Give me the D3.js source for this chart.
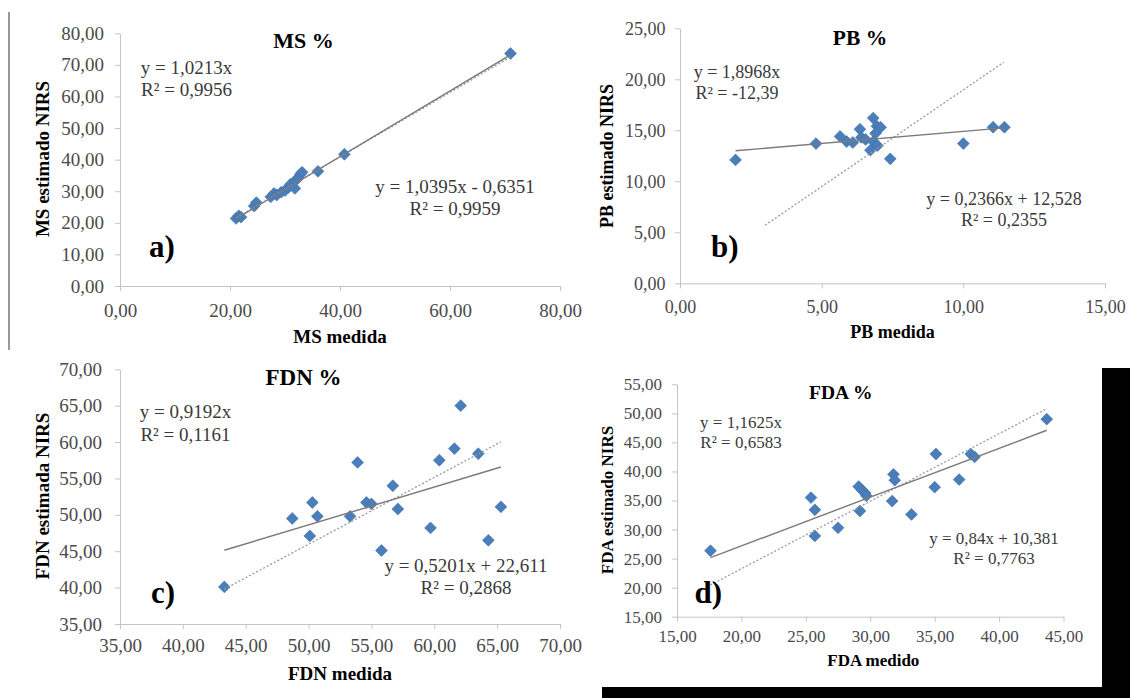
<!DOCTYPE html>
<html>
<head>
<meta charset="utf-8">
<script src="https://cdn.jsdelivr.net/npm/d3@7"></script>
<style>
  html, body { margin: 0; padding: 0; background: #fff; }
  svg { display: block; font-family: "Liberation Serif", "Times New Roman", serif; }
</style>
</head>
<body>
<svg id="chart" width="1130" height="698"></svg>
<script>
// a) MS %
const msMedida = [21.1, 21.6, 22.0, 24.4, 24.8, 27.4, 28.0, 28.5, 29.3, 30.0, 30.6, 31.0, 31.8, 31.9, 32.4, 32.8, 33.1, 36.0, 40.8, 71.0];
const msEstimado = [21.4, 22.2, 21.8, 25.3, 26.4, 28.2, 29.3, 28.8, 29.7, 30.2, 31.2, 32.2, 30.9, 33.4, 34.2, 35.4, 36.0, 36.3, 41.7, 73.6];
const msXTicks = [0, 20, 40, 60, 80];
const msYTicks = [0, 10, 20, 30, 40, 50, 60, 70, 80];
const msFitOrigem = [1.0213, 0];
const msFitLinear = [1.0395, -0.6351];
const msEquacoes = ["y = 1,0213x", "R² = 0,9956", "y = 1,0395x - 0,6351", "R² = 0,9959"];

// b) PB %
const pbMedida = [1.96, 4.8, 5.65, 5.88, 6.1, 6.35, 6.4, 6.55, 6.82, 6.95, 7.08, 6.9, 6.82, 6.72, 6.97, 7.42, 10.0, 11.05, 11.45];
const pbEstimado = [12.1, 13.7, 14.4, 13.9, 13.8, 15.1, 14.3, 14.1, 16.2, 15.4, 15.3, 14.7, 13.9, 13.05, 13.5, 12.2, 13.7, 15.3, 15.3];
const pbXTicks = [0, 5, 10, 15];
const pbYTicks = [0, 5, 10, 15, 20, 25];
const pbFitOrigem = [1.8968, 0];
const pbFitLinear = [0.2366, 12.528];
const pbEquacoes = ["y = 1,8968x", "R² = -12,39", "y = 0,2366x + 12,528", "R² = 0,2355"];
const pbOrigemFaixa = [3.0, 11.42];

// c) FDN %
const fdnMedida = [43.3, 48.7, 50.1, 50.3, 50.7, 53.3, 53.9, 54.6, 55.0, 55.8, 56.7, 57.1, 59.7, 60.4, 61.6, 62.1, 63.5, 64.3, 65.3];
const fdnEstimado = [40.1, 49.5, 47.1, 51.7, 49.8, 49.8, 57.2, 51.7, 51.5, 45.1, 54.0, 50.8, 48.2, 57.5, 59.1, 65.0, 58.4, 46.5, 51.1];
const fdnXTicks = [35, 40, 45, 50, 55, 60, 65, 70];
const fdnYTicks = [35, 40, 45, 50, 55, 60, 65, 70];
const fdnFitOrigem = [0.9192, 0];
const fdnFitLinear = [0.5201, 22.611];
const fdnEquacoes = ["y = 0,9192x", "R² = 0,1161", "y = 0,5201x + 22,611", "R² = 0,2868"];

// d) FDA %
const fdaMedida = [17.6, 25.4, 25.7, 25.7, 27.5, 29.2, 29.1, 29.35, 29.6, 29.7, 31.7, 31.8, 31.9, 33.2, 35.0, 35.1, 36.9, 37.8, 38.1, 43.7];
const fdaEstimado = [26.35, 35.5, 33.4, 28.9, 30.3, 33.2, 37.4, 36.8, 36.3, 35.8, 34.9, 39.5, 38.5, 32.6, 37.3, 43.0, 38.6, 43.0, 42.5, 49.0];
const fdaXTicks = [15, 20, 25, 30, 35, 40, 45];
const fdaYTicks = [15, 20, 25, 30, 35, 40, 45, 50, 55];
const fdaFitOrigem = [1.1625, 0];
const fdaFitLinear = [0.84, 10.381];
const fdaEquacoes = ["y = 1,1625x", "R² = 0,6583", "y = 0,84x + 10,381", "R² = 0,7763"];

const ptBR = d3.formatLocale({ decimal: ",", thousands: ".", grouping: [3], currency: ["R$", ""] });
const fmt = ptBR.format(".2f");

const panels = [
    {
        title: "MS %", letter: "a)", xLabel: "MS medida", yLabel: "MS estimado NIRS",
        xs: msMedida, ys: msEstimado, xTicks: msXTicks, yTicks: msYTicks,
        fitOrigem: msFitOrigem, fitLinear: msFitLinear, eq: msEquacoes,
        xRange: [120, 560], yRange: [286, 33.3], fs: 19, titleFs: 22,
        xPad: 12.5, yPad: 11,
        titlePos: [303.5, 48], letterPos: [149, 257], xLabelPos: [340, 343], yLabelPos: [49, 159],
        eq1Pos: [186.5, 74], eq2Pos: [455, 193],
    },
    {
        title: "PB %", letter: "b)", xLabel: "PB medida", yLabel: "PB estimado NIRS",
        xs: pbMedida, ys: pbEstimado, xTicks: pbXTicks, yTicks: pbYTicks,
        fitOrigem: pbFitOrigem, fitLinear: pbFitLinear, eq: pbEquacoes, origemFaixa: pbOrigemFaixa,
        xRange: [680, 1105], yRange: [283.3, 28.3], fs: 18, titleFs: 21.5,
        xPad: 12, yPad: 9.5,
        titlePos: [860, 45], letterPos: [711, 257], xLabelPos: [892.6, 338], yLabelPos: [613, 156],
        eq1Pos: [737, 78], eq2Pos: [1004, 205],
    },
    {
        title: "FDN %", letter: "c)", xLabel: "FDN medida", yLabel: "FDN estimada NIRS",
        xs: fdnMedida, ys: fdnEstimado, xTicks: fdnXTicks, yTicks: fdnYTicks,
        fitOrigem: fdnFitOrigem, fitLinear: fdnFitLinear, eq: fdnEquacoes,
        xRange: [120, 560], yRange: [624, 369.3], fs: 19, titleFs: 23,
        xPad: 9.5, yPad: 13,
        titlePos: [303.5, 385], letterPos: [151, 603], xLabelPos: [340, 680], yLabelPos: [49, 496],
        eq1Pos: [185.5, 418.3], eq2Pos: [466, 571.7],
    },
    {
        title: "FDA %", letter: "d)", xLabel: "FDA medido", yLabel: "FDA estimado NIRS",
        xs: fdaMedida, ys: fdaEstimado, xTicks: fdaXTicks, yTicks: fdaYTicks,
        fitOrigem: fdaFitOrigem, fitLinear: fdaFitLinear, eq: fdaEquacoes,
        xRange: [677, 1063.5], yRange: [616.7, 384.3], fs: 17, titleFs: 19.5,
        xPad: 8.3, yPad: 10,
        titlePos: [840.8, 399], letterPos: [694.5, 603], xLabelPos: [873.3, 666], yLabelPos: [612.5, 500],
        eq1Pos: [741, 428.3], eq2Pos: [994, 544],
    },
];

const svg = d3.select("#chart");

// moldura lateral do recorte
svg.append("line")
    .attr("x1", 9).attr("x2", 9).attr("y1", 12).attr("y2", 350)
    .attr("stroke", "#555").attr("stroke-width", 1.2);

panels.forEach(drawPanel);

// faixas pretas do recorte
svg.append("rect").attr("x", 1102).attr("y", 368).attr("width", 28).attr("height", 330).attr("fill", "#000");
svg.append("rect").attr("x", 602).attr("y", 687).attr("width", 528).attr("height", 11).attr("fill", "#000");

function drawPanel(p) {
    const g = svg.append("g");

    const xScale = d3.scaleLinear().domain(d3.extent(p.xTicks)).range(p.xRange);
    const yScale = d3.scaleLinear().domain(d3.extent(p.yTicks)).range(p.yRange);

    const xAxis = g.append("g")
        .attr("transform", `translate(0,${p.yRange[0]})`)
        .call(d3.axisBottom(xScale).tickValues(p.xTicks).tickFormat(fmt).tickSize(5).tickSizeOuter(0).tickPadding(p.xPad));
    const yAxis = g.append("g")
        .attr("transform", `translate(${p.xRange[0]},0)`)
        .call(d3.axisLeft(yScale).tickValues(p.yTicks).tickFormat(fmt).tickSize(5).tickSizeOuter(0).tickPadding(p.yPad));

    [xAxis, yAxis].forEach((a) => {
        a.select(".domain").attr("stroke", "#c4c4c4");
        a.selectAll(".tick line").attr("stroke", "#c4c4c4");
        a.selectAll(".tick text")
            .attr("fill", "#4a4a4a")
            .style("font-family", "Liberation Serif")
            .style("font-size", `${p.fs}px`);
    });

    const pts = p.xs.map((x, i) => ({ x, y: p.ys[i] }));
    g.selectAll(".pt")
        .data(pts)
        .join("path")
        .attr("class", "pt")
        .attr("d", d3.symbol(d3.symbolSquare, 70))
        .attr("transform", (d) => `translate(${xScale(d.x)},${yScale(d.y)}) rotate(45)`)
        .attr("fill", "#4a7ebb")
        .attr("stroke", "#3f70aa")
        .attr("stroke-width", 0.6);

    const [x0, x1] = d3.extent(p.xs);
    const line = d3.line().x((d) => xScale(d[0])).y((d) => yScale(d[1]));

    const fo = p.origemFaixa || [x0, x1];
    g.append("path")
        .datum(fo.map((x) => [x, p.fitOrigem[0] * x + p.fitOrigem[1]]))
        .attr("d", line)
        .attr("fill", "none")
        .attr("stroke", "#9a9a9a")
        .attr("stroke-width", 1.3)
        .attr("stroke-dasharray", "2,2");

    g.append("path")
        .datum([x0, x1].map((x) => [x, p.fitLinear[0] * x + p.fitLinear[1]]))
        .attr("d", line)
        .attr("fill", "none")
        .attr("stroke", "#7a7a7a")
        .attr("stroke-width", 1.4);

    g.append("text")
        .attr("x", p.titlePos[0]).attr("y", p.titlePos[1])
        .attr("text-anchor", "middle")
        .attr("font-weight", "bold")
        .attr("font-size", p.titleFs)
        .text(p.title);

    const eqs = [[p.eq[0], p.eq1Pos[0], p.eq1Pos[1]], [p.eq[1], p.eq1Pos[0], p.eq1Pos[1] + p.fs * 1.17],
                 [p.eq[2], p.eq2Pos[0], p.eq2Pos[1]], [p.eq[3], p.eq2Pos[0], p.eq2Pos[1] + p.fs * 1.17]];
    g.selectAll(".eq")
        .data(eqs)
        .join("text")
        .attr("class", "eq")
        .attr("x", (d) => d[1]).attr("y", (d) => d[2])
        .attr("text-anchor", "middle")
        .attr("font-size", p.fs)
        .attr("fill", "#3a3a3a")
        .text((d) => d[0]);

    g.append("text")
        .attr("x", p.letterPos[0]).attr("y", p.letterPos[1])
        .attr("font-weight", "bold")
        .attr("font-size", 31)
        .text(p.letter);

    g.append("text")
        .attr("x", p.xLabelPos[0]).attr("y", p.xLabelPos[1])
        .attr("text-anchor", "middle")
        .attr("font-weight", "bold")
        .attr("font-size", p.fs)
        .text(p.xLabel);

    g.append("text")
        .attr("transform", `translate(${p.yLabelPos[0]},${p.yLabelPos[1]}) rotate(-90)`)
        .attr("text-anchor", "middle")
        .attr("font-weight", "bold")
        .attr("font-size", p.fs)
        .text(p.yLabel);
}
</script>
</body>
</html>
